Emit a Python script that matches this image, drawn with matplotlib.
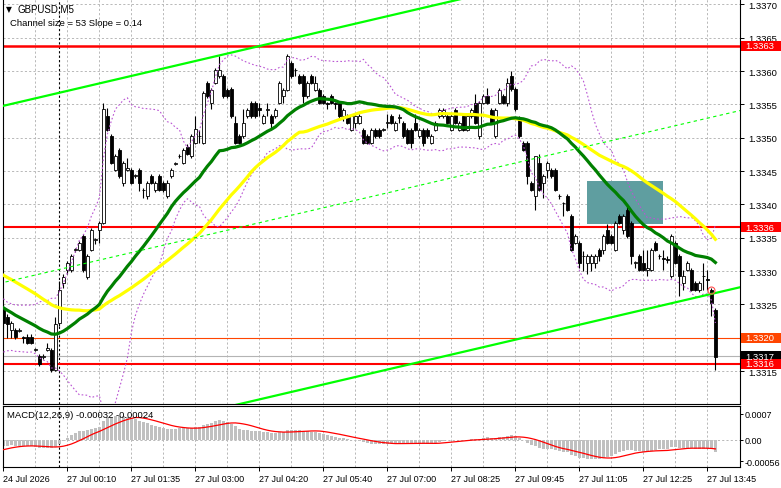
import matplotlib
matplotlib.use("Agg")
import matplotlib.pyplot as plt
import matplotlib.transforms as mtransforms
from matplotlib.patches import Rectangle
import numpy as np
import pandas as pd

plt.rcParams['font.family'] = ['Liberation Sans', 'DejaVu Sans']
plt.rcParams['font.size'] = 6.5

# GBPUSD M5 candles (bar 0 = last bars of 24 Jul)
opens = [
    1.33242, 1.33231, 1.33212, 1.33212, 1.33210, 1.33201, 1.33201, 1.33201, 1.33182, 1.33172,
    1.33171, 1.33182, 1.33182, 1.33152, 1.33222, 1.33282, 1.33301, 1.33301, 1.33331, 1.33332,
    1.33352, 1.33291, 1.33332, 1.33347, 1.33362, 1.33372, 1.33533, 1.33502, 1.33452, 1.33482,
    1.33432, 1.33452, 1.33452, 1.33443, 1.33452, 1.33422, 1.33412, 1.33442, 1.33422, 1.33442,
    1.33432, 1.33412, 1.33442, 1.33461, 1.33472, 1.33462, 1.33486, 1.33473, 1.33492, 1.33502,
    1.33492, 1.33582, 1.33552, 1.33582, 1.33592, 1.33592, 1.33572, 1.33573, 1.33522, 1.33502,
    1.33502, 1.33532, 1.33552, 1.33552, 1.33545, 1.33522, 1.33542, 1.33532, 1.33532, 1.33552,
    1.33562, 1.33572, 1.33612, 1.33602, 1.33592, 1.33592, 1.33562, 1.33592, 1.33572, 1.33572,
    1.33562, 1.33552, 1.33562, 1.33552, 1.33552, 1.33532, 1.33532, 1.33512, 1.33522, 1.33522,
    1.33512, 1.33502, 1.33492, 1.33512, 1.33512, 1.33512, 1.33522, 1.33532, 1.33512, 1.33530,
    1.33522, 1.33512, 1.33512, 1.33522, 1.33502, 1.33512, 1.33512, 1.33492, 1.33512, 1.33532,
    1.33532, 1.33532, 1.33512, 1.33542, 1.33512, 1.33532, 1.33512, 1.33532, 1.33552, 1.33502,
    1.33552, 1.33562, 1.33542, 1.33502, 1.33552, 1.33562, 1.33552, 1.33592, 1.33573, 1.33528,
    1.33492, 1.33492, 1.33432, 1.33412, 1.33462, 1.33432, 1.33452, 1.33452, 1.33452, 1.33412,
    1.33402, 1.33412, 1.33382, 1.33342, 1.33342, 1.33322, 1.33312, 1.33312, 1.33312, 1.33332,
    1.33332, 1.33362, 1.33352, 1.33332, 1.33382, 1.33362, 1.33392, 1.33372, 1.33312, 1.33322,
    1.33312, 1.33302, 1.33302, 1.33342, 1.33322, 1.33320, 1.33318, 1.33292, 1.33342, 1.33322,
    1.33282, 1.33302, 1.33302, 1.33282, 1.33272, 1.33292, 1.33288, 1.33272, 1.33242,
]
highs = [
    1.33250, 1.33235, 1.33225, 1.33215, 1.33214, 1.33203, 1.33205, 1.33205, 1.33185, 1.33175,
    1.33175, 1.33192, 1.33185, 1.33231, 1.33285, 1.33295, 1.33315, 1.33325, 1.33335, 1.33345,
    1.33355, 1.33325, 1.33365, 1.33350, 1.33375, 1.33552, 1.33545, 1.33505, 1.33475, 1.33485,
    1.33465, 1.33470, 1.33455, 1.33446, 1.33455, 1.33424, 1.33435, 1.33445, 1.33435, 1.33445,
    1.33435, 1.33436, 1.33455, 1.33464, 1.33475, 1.33485, 1.33490, 1.33505, 1.33533, 1.33512,
    1.33570, 1.33585, 1.33575, 1.33605, 1.33623, 1.33595, 1.33575, 1.33576, 1.33533, 1.33505,
    1.33543, 1.33545, 1.33555, 1.33555, 1.33552, 1.33535, 1.33552, 1.33535, 1.33545, 1.33585,
    1.33575, 1.33625, 1.33615, 1.33604, 1.33595, 1.33595, 1.33585, 1.33595, 1.33592, 1.33575,
    1.33565, 1.33554, 1.33565, 1.33554, 1.33555, 1.33545, 1.33535, 1.33535, 1.33535, 1.33535,
    1.33515, 1.33505, 1.33515, 1.33515, 1.33515, 1.33514, 1.33535, 1.33535, 1.33525, 1.33535,
    1.33525, 1.33515, 1.33515, 1.33535, 1.33515, 1.33515, 1.33515, 1.33505, 1.33525, 1.33545,
    1.33545, 1.33535, 1.33535, 1.33545, 1.33525, 1.33535, 1.33535, 1.33545, 1.33565, 1.33555,
    1.33565, 1.33575, 1.33545, 1.33545, 1.33575, 1.33565, 1.33590, 1.33600, 1.33576, 1.33532,
    1.33495, 1.33495, 1.33435, 1.33472, 1.33475, 1.33445, 1.33465, 1.33455, 1.33455, 1.33415,
    1.33404, 1.33415, 1.33385, 1.33355, 1.33345, 1.33330, 1.33325, 1.33325, 1.33325, 1.33335,
    1.33355, 1.33370, 1.33355, 1.33375, 1.33385, 1.33385, 1.33400, 1.33375, 1.33315, 1.33325,
    1.33332, 1.33332, 1.33335, 1.33345, 1.33325, 1.33332, 1.33322, 1.33355, 1.33345, 1.33325,
    1.33302, 1.33315, 1.33305, 1.33285, 1.33285, 1.33312, 1.33302, 1.33275, 1.33245,
]
lows = [
    1.33215, 1.33200, 1.33200, 1.33198, 1.33208, 1.33192, 1.33190, 1.33190, 1.33180, 1.33158,
    1.33168, 1.33180, 1.33148, 1.33150, 1.33218, 1.33275, 1.33295, 1.33298, 1.33328, 1.33330,
    1.33298, 1.33288, 1.33330, 1.33340, 1.33342, 1.33370, 1.33510, 1.33460, 1.33450, 1.33440,
    1.33428, 1.33450, 1.33430, 1.33440, 1.33420, 1.33410, 1.33408, 1.33430, 1.33418, 1.33420,
    1.33418, 1.33410, 1.33440, 1.33459, 1.33470, 1.33460, 1.33474, 1.33470, 1.33490, 1.33492,
    1.33490, 1.33560, 1.33543, 1.33580, 1.33590, 1.33560, 1.33560, 1.33530, 1.33490, 1.33490,
    1.33500, 1.33530, 1.33530, 1.33530, 1.33532, 1.33520, 1.33532, 1.33512, 1.33530, 1.33550,
    1.33552, 1.33570, 1.33590, 1.33592, 1.33580, 1.33552, 1.33560, 1.33580, 1.33570, 1.33550,
    1.33550, 1.33543, 1.33550, 1.33543, 1.33530, 1.33525, 1.33520, 1.33510, 1.33515, 1.33520,
    1.33490, 1.33490, 1.33490, 1.33500, 1.33500, 1.33510, 1.33515, 1.33520, 1.33510, 1.33522,
    1.33500, 1.33490, 1.33485, 1.33510, 1.33500, 1.33488, 1.33500, 1.33490, 1.33510, 1.33530,
    1.33530, 1.33520, 1.33510, 1.33520, 1.33510, 1.33510, 1.33510, 1.33530, 1.33520, 1.33498,
    1.33550, 1.33550, 1.33520, 1.33500, 1.33550, 1.33550, 1.33548, 1.33570, 1.33540, 1.33500,
    1.33480, 1.33430, 1.33420, 1.33392, 1.33420, 1.33410, 1.33440, 1.33440, 1.33420, 1.33408,
    1.33382, 1.33390, 1.33330, 1.33340, 1.33305, 1.33300, 1.33295, 1.33300, 1.33305, 1.33315,
    1.33325, 1.33340, 1.33340, 1.33330, 1.33370, 1.33355, 1.33350, 1.33310, 1.33305, 1.33300,
    1.33300, 1.33292, 1.33300, 1.33330, 1.33318, 1.33302, 1.33312, 1.33290, 1.33310, 1.33262,
    1.33272, 1.33300, 1.33270, 1.33270, 1.33268, 1.33272, 1.33272, 1.33233, 1.33151,
]
closes = [
    1.33222, 1.33221, 1.33222, 1.33201, 1.33212, 1.33200, 1.33192, 1.33192, 1.33183, 1.33161,
    1.33173, 1.33185, 1.33152, 1.33221, 1.33272, 1.33291, 1.33312, 1.33322, 1.33333, 1.33342,
    1.33301, 1.33322, 1.33362, 1.33348, 1.33372, 1.33543, 1.33512, 1.33462, 1.33472, 1.33442,
    1.33462, 1.33455, 1.33432, 1.33444, 1.33432, 1.33421, 1.33432, 1.33432, 1.33432, 1.33422,
    1.33422, 1.33432, 1.33452, 1.33462, 1.33473, 1.33481, 1.33476, 1.33502, 1.33513, 1.33503,
    1.33567, 1.33562, 1.33572, 1.33602, 1.33602, 1.33562, 1.33562, 1.33533, 1.33492, 1.33492,
    1.33522, 1.33542, 1.33532, 1.33532, 1.33542, 1.33532, 1.33543, 1.33522, 1.33542, 1.33582,
    1.33572, 1.33622, 1.33592, 1.33601, 1.33582, 1.33562, 1.33582, 1.33582, 1.33582, 1.33552,
    1.33552, 1.33551, 1.33552, 1.33551, 1.33532, 1.33542, 1.33522, 1.33532, 1.33532, 1.33532,
    1.33492, 1.33492, 1.33512, 1.33502, 1.33502, 1.33513, 1.33523, 1.33522, 1.33522, 1.33531,
    1.33502, 1.33492, 1.33492, 1.33512, 1.33512, 1.33492, 1.33502, 1.33502, 1.33522, 1.33542,
    1.33542, 1.33522, 1.33532, 1.33522, 1.33522, 1.33512, 1.33532, 1.33542, 1.33522, 1.33552,
    1.33562, 1.33552, 1.33522, 1.33542, 1.33572, 1.33552, 1.33582, 1.33573, 1.33543, 1.33502,
    1.33482, 1.33442, 1.33422, 1.33472, 1.33422, 1.33442, 1.33462, 1.33442, 1.33422, 1.33412,
    1.33402, 1.33392, 1.33332, 1.33352, 1.33312, 1.33322, 1.33322, 1.33322, 1.33322, 1.33322,
    1.33352, 1.33342, 1.33342, 1.33372, 1.33372, 1.33382, 1.33352, 1.33322, 1.33313, 1.33302,
    1.33302, 1.33305, 1.33332, 1.33332, 1.33323, 1.33318, 1.33317, 1.33352, 1.33312, 1.33292,
    1.33292, 1.33312, 1.33272, 1.33272, 1.33282, 1.33292, 1.33286, 1.33252, 1.33171,
]
# closes before the visible window (estimated from where the averages start)
earlier_closes = [
    1.33385, 1.33390, 1.33380, 1.33375, 1.33385, 1.33380, 1.33370, 1.33372, 1.33365, 1.33370,
    1.33378, 1.33372, 1.33365, 1.33360, 1.33368, 1.33362, 1.33355, 1.33360, 1.33352, 1.33345,
    1.33340, 1.33332, 1.33325, 1.33318, 1.33305, 1.33298, 1.33290, 1.33285, 1.33280, 1.33275,
    1.33268, 1.33255, 1.33240, 1.33232, 1.33218, 1.33205, 1.33195, 1.33190, 1.33198, 1.33185,
    1.33192, 1.33205, 1.33212, 1.33220, 1.33215, 1.33228, 1.33235, 1.33242, 1.33238, 1.33245,
]

time_labels = ["24 Jul 2026", "27 Jul 00:10", "27 Jul 01:35", "27 Jul 03:00", "27 Jul 04:20",
               "27 Jul 05:40", "27 Jul 07:00", "27 Jul 08:25", "27 Jul 09:45", "27 Jul 11:05",
               "27 Jul 12:25", "27 Jul 13:45"]
time_label_bars = [0, 16, 32, 48, 64, 80, 96, 112, 128, 144, 160, 176]
day_start_bar = 14

price_ticks = [1.3315, 1.3320, 1.3325, 1.3330, 1.3335, 1.3340, 1.3345, 1.3350,
               1.3355, 1.3360, 1.3365, 1.3370]
macd_ticks = [0.0007, 0.0, -0.00056]
macd_tick_labels = ["0.0007", "0.00", "-0.00056"]

# horizontal levels: price, label text, colour, width
levels = [
    (1.33638, "1.3363", "#ff0000", 1.8),
    (1.33366, "1.3336", "#ff0000", 1.5),
    (1.33200, "1.3320", "#ff4500", 0.8),
    (1.33172, "1.3317", "#b4b4b4", 0.8),
    (1.33161, "1.3316", "#ff0000", 1.5),
]
label_box_colors = {"1.3317": "#000000"}

# regression channel
channel_start = 1.33548     # upper line at bar 0
channel_slope = 0.000014    # per bar
channel_size = 0.0053

zone_bars = (146, 165)
zone_prices = (1.33370, 1.33435)
marker_bar = [177]
marker_price = [1.33272]

# ---------------- indicators ----------------
n = len(closes)
k = len(earlier_closes)
allc = pd.Series(earlier_closes + closes)
sma30 = allc.rolling(30).mean().values[k:]
sma50 = allc.rolling(50).mean().values[k:]
bb_mid = allc.rolling(20).mean()
bb_sd = allc.rolling(20).std(ddof=0)
bb_up = (bb_mid + 2 * bb_sd).values[k:]
bb_dn = (bb_mid - 2 * bb_sd).values[k:]
macd_all = allc.ewm(span=12, adjust=False).mean() - allc.ewm(span=26, adjust=False).mean()
signal = macd_all.rolling(9).mean().values[k:]
macd = macd_all.values[k:]

x = np.arange(n)
o = np.array(opens); h = np.array(highs); l = np.array(lows); c = np.array(closes)

fig = plt.figure(figsize=(7.81, 4.89), dpi=100)
W, H = 781.0, 489.0
ax = fig.add_axes([3 / W, 1 - 405 / H, 737 / W, 405 / H])
ax2 = fig.add_axes([3 / W, 1 - 468 / H, 737 / W, 61 / H], sharex=ax)

grid_kw = dict(color="#b8b8b8", lw=0.7, ls=(0, (2.2, 2.2)), zorder=0)
for a in (ax, ax2):
    for gx in range(8, 184, 8):
        a.axvline(gx, **grid_kw)
    a.axvline(day_start_bar, color="black", lw=0.8, ls=(0, (2, 2)), zorder=1)
for p in price_ticks:
    ax.axhline(p, **grid_kw)
ax2.axhline(0, **grid_kw)

# zone
ax.add_patch(Rectangle((zone_bars[0], zone_prices[0]), zone_bars[1] - zone_bars[0],
                       zone_prices[1] - zone_prices[0], facecolor="#5f9ea0",
                       edgecolor="none", zorder=1))

# horizontal levels
for price, txt, col, lw in levels:
    ax.axhline(price, color=col, lw=lw, zorder=2)

# candles
ax.vlines(x, l, h, color="black", lw=0.8, zorder=3)
up = c >= o
body_lo = np.minimum(o, c)
body_h = np.maximum(np.abs(c - o), 0.000003)
ax.bar(x, body_h, bottom=body_lo, width=0.72,
       color=np.where(up, "white", "black"), edgecolor="black", lw=0.6, zorder=4)

# moving averages and bands
ax.plot(x, bb_up, color="#ba55d3", lw=0.8, ls=(0, (1.5, 2)), zorder=5)
ax.plot(x, bb_dn, color="#ba55d3", lw=0.8, ls=(0, (1.5, 2)), zorder=5)
ax.plot(x, sma50, color="#ffff00", lw=2.3, zorder=6)
ax.plot(x, sma30, color="#008000", lw=2.3, zorder=6)

# channel
cx = np.array([-5, 200])
upper = channel_start + channel_slope * cx
ax.plot(cx, upper, color="#00ff00", lw=1.6, zorder=7)
ax.plot(cx, upper - channel_size, color="#00ff00", lw=1.6, zorder=7)
ax.plot(cx, upper - channel_size / 2, color="#00ff00", lw=0.8, ls=(0, (3, 3)), zorder=7)

ax.plot(marker_bar, marker_price, "o", ms=5, mfc="none", mec="#ff5050", mew=0.8, zorder=8)

ax.set_xlim(-0.1, 184.15)
ax.set_ylim(1.331007, 1.337082)

# macd panel
ax2.bar(x, macd, width=0.75, color="#c0c0c0", zorder=2)
ax2.plot(x, signal, color="#ff0000", lw=0.9, zorder=3)
ax2.set_ylim(-0.000719, 0.000905)

# axes styling
for a in (ax, ax2):
    for s in a.spines.values():
        s.set_linewidth(0.8)
        s.set_color("black")
    a.yaxis.tick_right()
ax.tick_params(axis="y", length=3, width=0.7, pad=3, labelsize=6.8)
ax2.tick_params(axis="y", length=2, width=0.7, pad=1.5, labelsize=6.5)
ax.spines["top"].set_visible(False)
ax.set_yticks(price_ticks)
# the 1.3320 slot is taken by the level box
ax.set_yticklabels(["" if abs(p - 1.3320) < 1e-9 else "%.4f" % p for p in price_ticks])
ax.tick_params(axis="x", bottom=False, labelbottom=False)
ax2.set_yticks(macd_ticks)
ax2.set_yticklabels(macd_tick_labels)
ax2.set_xticks(time_label_bars)
ax2.set_xticklabels(time_labels, ha="left")
ax2.tick_params(axis="x", length=3, width=0.7, pad=2, labelsize=6.5)

# price boxes on right scale
trans = mtransforms.blended_transform_factory(fig.transFigure, ax.transData)
box_h = 10 / 6.667 * 0.0001
for price, txt, col, lw in levels:
    bc = label_box_colors.get(txt, col)
    ax.add_patch(Rectangle((741 / W, price - box_h / 2), 40 / W, box_h, transform=trans,
                           facecolor=bc, edgecolor="none", clip_on=False, zorder=20))
    ax.text(745 / W, price, txt, transform=trans, color="white", va="center", ha="left",
            fontsize=6.8, zorder=21, clip_on=False)

# captions
fig.text(6 / W, 1 - 10 / H, "\u25bc", fontsize=5.5, va="center", family="DejaVu Sans")
fig.text(17 / W, 1 - 10 / H, "GBPUSD,M5", fontsize=7, va="center")
fig.text(10 / W, 1 - 24 / H, "Channel size = 53 Slope = 0.14", fontsize=6.8, va="center")
fig.text(7 / W, 1 - 416 / H, "MACD(12,26,9) -0.00032 -0.00024", fontsize=6.8, va="center")

fig.savefig("out.png", dpi=100)
